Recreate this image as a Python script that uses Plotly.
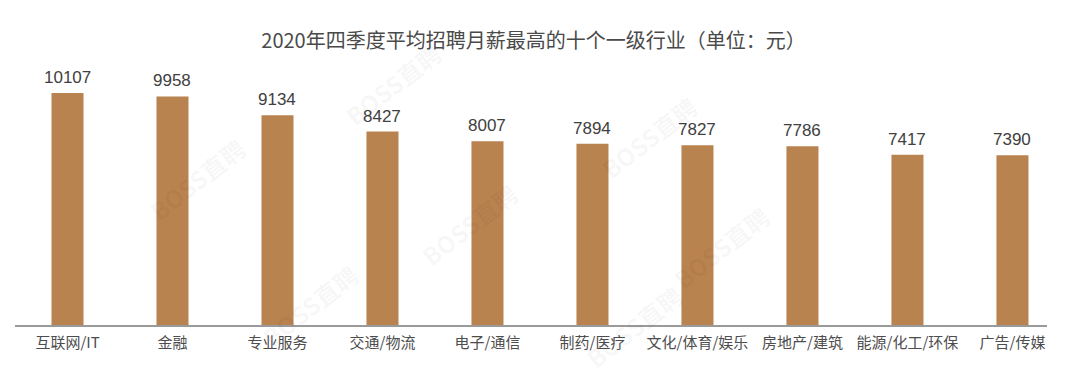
import plotly.graph_objects as go

categories = ["互联网/IT", "金融", "专业服务", "交通/物流", "电子/通信",
              "制药/医疗", "文化/体育/娱乐", "房地产/建筑", "能源/化工/环保", "广告/传媒"]
salaries = [10107, 9958, 9134, 8427, 8007, 7894, 7827, 7786, 7417, 7390]
title_text = "2020年四季度平均招聘月薪最高的十个一级行业（单位：元）"
watermark_text = "BOSS直聘"

FONT = "Noto Sans CJK SC, Noto Sans, sans-serif"
NUMFONT = "Liberation Sans, Arial, sans-serif"

fig = go.Figure(go.Bar(
    x=categories, y=salaries,
    marker=dict(color="#B9834F", line=dict(width=0)),
    width=0.305,
    hoverinfo="x+y",
))

# value labels above bars
for c, v in zip(categories, salaries):
    fig.add_annotation(x=c, y=v, text=str(v), showarrow=False,
                       yanchor="bottom", yshift=4,
                       font=dict(size=17, color="#404040", family=NUMFONT))

# faint watermarks (paper coordinates)
wm_pos = [(0.31, 1.10), (0.12, 0.55), (0.44, 0.38), (0.67, 0.90), (0.74, 0.10), (0.23, -0.12), (0.60, -0.20)]
for (px, py) in wm_pos:
    fig.add_annotation(x=px, y=py, xref="paper", yref="paper", text="<b>" + watermark_text + "</b>",
                       showarrow=False, textangle=-38,
                       font=dict(size=24, color="rgba(0,0,0,0.045)", family=FONT))

fig.update_layout(
    width=1080, height=387,
    margin=dict(l=15, r=33, t=60, b=62),
    paper_bgcolor="white", plot_bgcolor="white",
    title=dict(text=title_text, x=0.494, xanchor="center", y=0.895, yanchor="middle",
               font=dict(size=20, color="#4a4a4a", family=FONT)),
    showlegend=False,
    xaxis=dict(showline=True, linecolor="#9a9a9a", linewidth=1.5, ticks="",
               tickfont=dict(size=15, color="#4d4d4d", family=FONT),
               ticklabelstandoff=3,
               range=[-0.5, 9.329],
               showgrid=False, zeroline=False),
    yaxis=dict(visible=False, range=[0, 11545], showgrid=False, zeroline=False),
)

fig.write_html("out.html")
